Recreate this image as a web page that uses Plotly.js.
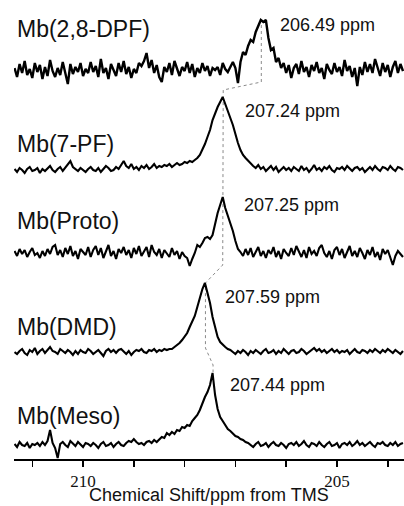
<!DOCTYPE html>
<html>
<head>
<meta charset="utf-8">
<script src="https://cdn.plot.ly/plotly-3.0.1.min.js"></script>
<style>
html,body{margin:0;padding:0;background:#fff;}
#chart{width:404px;height:506px;}
</style>
</head>
<body>
<div id="chart"></div>
<script>
// ---- data ----
const ppm = [
211.35,211.30,211.25,211.20,211.15,211.10,211.05,211.00,210.95,210.90,
210.85,210.80,210.75,210.70,210.65,210.60,210.55,210.50,210.45,210.40,
210.35,210.30,210.25,210.20,210.15,210.10,210.05,210.00,209.95,209.90,
209.85,209.80,209.75,209.70,209.65,209.60,209.55,209.50,209.45,209.40,
209.35,209.30,209.25,209.20,209.15,209.10,209.05,209.00,208.95,208.90,
208.85,208.80,208.75,208.70,208.65,208.60,208.55,208.50,208.45,208.40,
208.35,208.30,208.25,208.20,208.15,208.10,208.05,208.00,207.95,207.90,
207.85,207.80,207.75,207.70,207.65,207.60,207.55,207.50,207.45,207.40,
207.35,207.30,207.25,207.20,207.15,207.10,207.05,207.00,206.95,206.90,
206.85,206.80,206.75,206.70,206.65,206.60,206.55,206.50,206.45,206.40,
206.35,206.30,206.25,206.20,206.15,206.10,206.05,206.00,205.95,205.90,
205.85,205.80,205.75,205.70,205.65,205.60,205.55,205.50,205.45,205.40,
205.35,205.30,205.25,205.20,205.15,205.10,205.05,205.00,204.95,204.90,
204.85,204.80,204.75,204.70,204.65,204.60,204.55,204.50,204.45,204.40,
204.35,204.30,204.25,204.20,204.15,204.10,204.05,204.00,203.95,203.90,
203.85,203.80,203.75,203.70];

const specDPF = [
2,-7,6,-3,9,-5,1,-8,7,-2,
5,-9,3,-6,10,-1,-7,2,-5,8,
-3,-14,6,-4,3,-2,7,-6,1,-3,
8,-2,4,-7,11,-3,2,-9,6,0,
-6,7,-2,9,-4,3,-8,1,-3,7,
4,9,17,2,10,-3,5,-7,-12,3,
-2,7,-5,9,1,-6,3,-1,8,-3,
6,-7,2,-3,7,-1,4,-6,2,0,
3,-5,7,1,-2,
3,8,2,-13,8,18,15,24,30,28,38,44,50,48,50,32,20,22,8,12,2,
7,-3,5,-8,2,6,-4,9,-2,3,
-7,5,-1,8,-3,2,-9,6,0,-4,
7,-2,3,-6,10,-1,4,-7,2,-16,
3,-5,8,-2,6,-3,11,1,-6,7,
-2,5,-7,3,9,-3,6,-1];

const spec7PF = [
1,-2,2,0,-3,1,3,-1,0,2,
-3,1,-1,2,4,0,-2,1,3,-1,
2,5,9,3,1,-1,2,0,-2,1,
3,0,-1,2,-2,1,4,2,-1,0,
3,1,5,9,4,2,6,1,3,0,
4,2,5,1,3,6,2,4,3,5,
4,6,3,5,7,5,6,8,7,9,
8,10,12,15,20,26,33,40,50,57,
63,68,73,66,58,52,45,35,27,20,
15,12,9,6,4,2,5,1,3,-1,
2,4,0,3,-2,1,3,0,2,-1,
3,1,-1,4,0,2,-2,1,5,0,
2,-1,3,1,4,0,-2,2,1,3,
0,4,1,-1,2,3,0,2,-2,1,
3,0,4,1,-1,3,2,0,4,1,
-1,3,2,0];

const specProto = [
2,-3,4,-1,3,-4,1,5,-2,0,
-5,2,-3,4,-1,6,8,-2,3,-4,
5,-1,7,-3,2,-6,4,1,-2,6,
-4,3,7,-2,5,-5,1,8,-3,2,
-6,4,0,6,-2,3,-5,5,-1,7,
-3,2,6,-4,8,1,-2,4,-5,3,
0,-4,5,-2,2,-6,1,-3,-5,-13,
-6,0,8,6,10,15,16,14,18,30,
40,48,56,45,38,30,22,12,4,1,
-3,4,-2,5,-4,1,6,-3,2,-5,
3,-1,6,-4,2,-6,4,0,-3,5,
-2,7,1,-4,3,-5,6,-1,2,-3,
5,8,0,-4,2,-6,3,6,-2,4,
-5,1,7,-3,2,-4,5,0,-6,3,
-2,6,-4,1,-7,4,-1,3,-5,-12,
-3,2,-1,-4];

const specDMD = [
0,-2,1,3,-1,-3,2,0,4,-2,
1,3,-1,2,5,1,0,-2,3,1,
-1,2,0,-3,1,-2,2,0,-1,3,
1,-2,0,2,-1,-4,1,3,0,2,
-1,2,3,0,-2,1,-3,0,2,1,
3,0,-1,2,1,3,0,2,1,3,
2,3,3,5,7,9,12,15,19,25,
30,36,45,55,63,69,60,49,35,24,
15,10,7,5,3,2,0,-2,1,-1,
2,0,-3,1,-1,2,0,-2,1,3,
-1,0,2,-2,1,-1,3,0,-2,1,
2,-1,0,3,1,-2,0,2,4,1,
3,0,2,-1,1,3,0,2,-1,1,
0,2,-2,1,3,0,-1,2,1,-1,
2,0,3,1,-1,2,0,3,1,-1,
2,0,-2,1];

const specMeso = [
1,-2,3,0,-1,2,-3,1,0,2,
-1,3,0,4,15,2,-3,-13,1,3,
0,-2,4,1,-1,3,0,-2,2,1,
-1,2,0,-3,1,3,-1,0,2,-2,
1,3,0,-1,2,4,3,6,3,1,
2,0,3,4,2,5,3,6,8,7,
12,10,13,11,15,14,18,17,20,19,
24,27,30,35,42,48,53,60,72,50,
36,28,24,20,16,14,11,9,8,6,
5,3,2,0,-2,1,3,-1,0,2,
-2,1,3,0,-1,2,0,-3,1,2,
0,3,-1,1,4,0,-2,2,1,-1,
3,0,-2,1,3,-1,0,2,-3,1,
2,0,3,-1,1,4,0,2,-1,1,
3,0,-2,2,1,3,0,-1,2,0,
3,-1,1,2];

const sampleNames = ['Mb(2,8-DPF)','Mb(7-PF)','Mb(Proto)','Mb(DMD)','Mb(Meso)'];
const peakPpm = [206.49, 207.24, 207.25, 207.59, 207.44];
const peakLabels = ['206.49 ppm','207.24 ppm','207.25 ppm','207.59 ppm','207.44 ppm'];
const tickVals = [211,210,209,208,207,206,205,204];
const tickText = ['','210','','','','','205',''];
const xTitle = 'Chemical Shift/ppm from TMS';

// ---- layout (pixel positions) ----
const L = 14, R = 0, T = 0, B = 47, W = 404, H = 506;
const PW = W - L - R, PH = H - T - B;
const baselines = [70, 170, 253, 352, 445];
const nameY = [29, 144, 221, 327, 416];
const ppmLabelPx = [[278,25],[243,111],[242,205],[223,297],[228,385]];
const connectorY = [25, 82, 90, 185, 185, 265, 283, 348, 365, 375];

const spectra = [specDPF, spec7PF, specProto, specDMD, specMeso];
const px2x = p => (p - L) / PW;
const px2y = p => (PH - p) / PH;

const traces = [];
const layout = {
  width: W, height: H,
  margin: {l: L, r: R, t: T, b: B, pad: 0},
  paper_bgcolor: '#fff', plot_bgcolor: '#fff',
  showlegend: false,
  font: {family: '"Liberation Sans", Arial, sans-serif', color: '#111'},
  xaxis: {
    range: [211.36, 203.68],
    showgrid: false, zeroline: false,
    showline: true, linecolor: '#000', linewidth: 2,
    ticks: 'outside', ticklen: 6, tickwidth: 1.5, tickcolor: '#000',
    tickvals: tickVals, ticktext: tickText,
    ticklabelstandoff: 0,
    tickfont: {family: '"Liberation Serif", "Times New Roman", serif', size: 17, color: '#111'},
    automargin: false
  },
  yaxis: {range: [PH, 0], visible: false, fixedrange: true},
  annotations: [{
    xref: 'paper', yref: 'paper', x: px2x(209), y: px2y(495),
    xanchor: 'center', yanchor: 'middle', showarrow: false,
    text: xTitle, font: {size: 18, color: '#111'}
  }],
};

spectra.forEach((s, k) => {
  const ax = 'y' + (k + 2);
  const yb = baselines[k];
  layout['yaxis' + (k + 2)] = {
    range: [yb - PH, yb], overlaying: 'y', anchor: 'x', visible: false
  };
  traces.push({
    x: ppm, y: s, type: 'scatter', mode: 'lines', yaxis: ax,
    line: {color: '#000', width: k === 0 ? 2.4 : 2.1}, hoverinfo: 'skip'
  });
  layout.annotations.push({
    xref: 'paper', yref: 'paper', x: px2x(15), y: px2y(nameY[k]),
    xanchor: 'left', yanchor: 'middle', showarrow: false,
    text: sampleNames[k], font: {size: 23, color: '#111'}
  });
  layout.annotations.push({
    xref: 'paper', yref: 'paper', x: px2x(ppmLabelPx[k][0]), y: px2y(ppmLabelPx[k][1]),
    xanchor: 'left', yanchor: 'middle', showarrow: false,
    text: peakLabels[k], font: {size: 18, color: '#111'}
  });
});

// dotted connector between the peak maxima
const cx = [peakPpm[0], peakPpm[0], peakPpm[1], peakPpm[1], peakPpm[2], peakPpm[2],
            peakPpm[3], peakPpm[3], peakPpm[4], peakPpm[4]];
traces.push({
  x: cx, y: connectorY, type: 'scatter', mode: 'lines', yaxis: 'y',
  line: {color: '#8a8a8a', width: 1, dash: 'dot'}, hoverinfo: 'skip'
});

Plotly.newPlot('chart', traces, layout, {staticPlot: true, displayModeBar: false});
</script>
</body>
</html>
